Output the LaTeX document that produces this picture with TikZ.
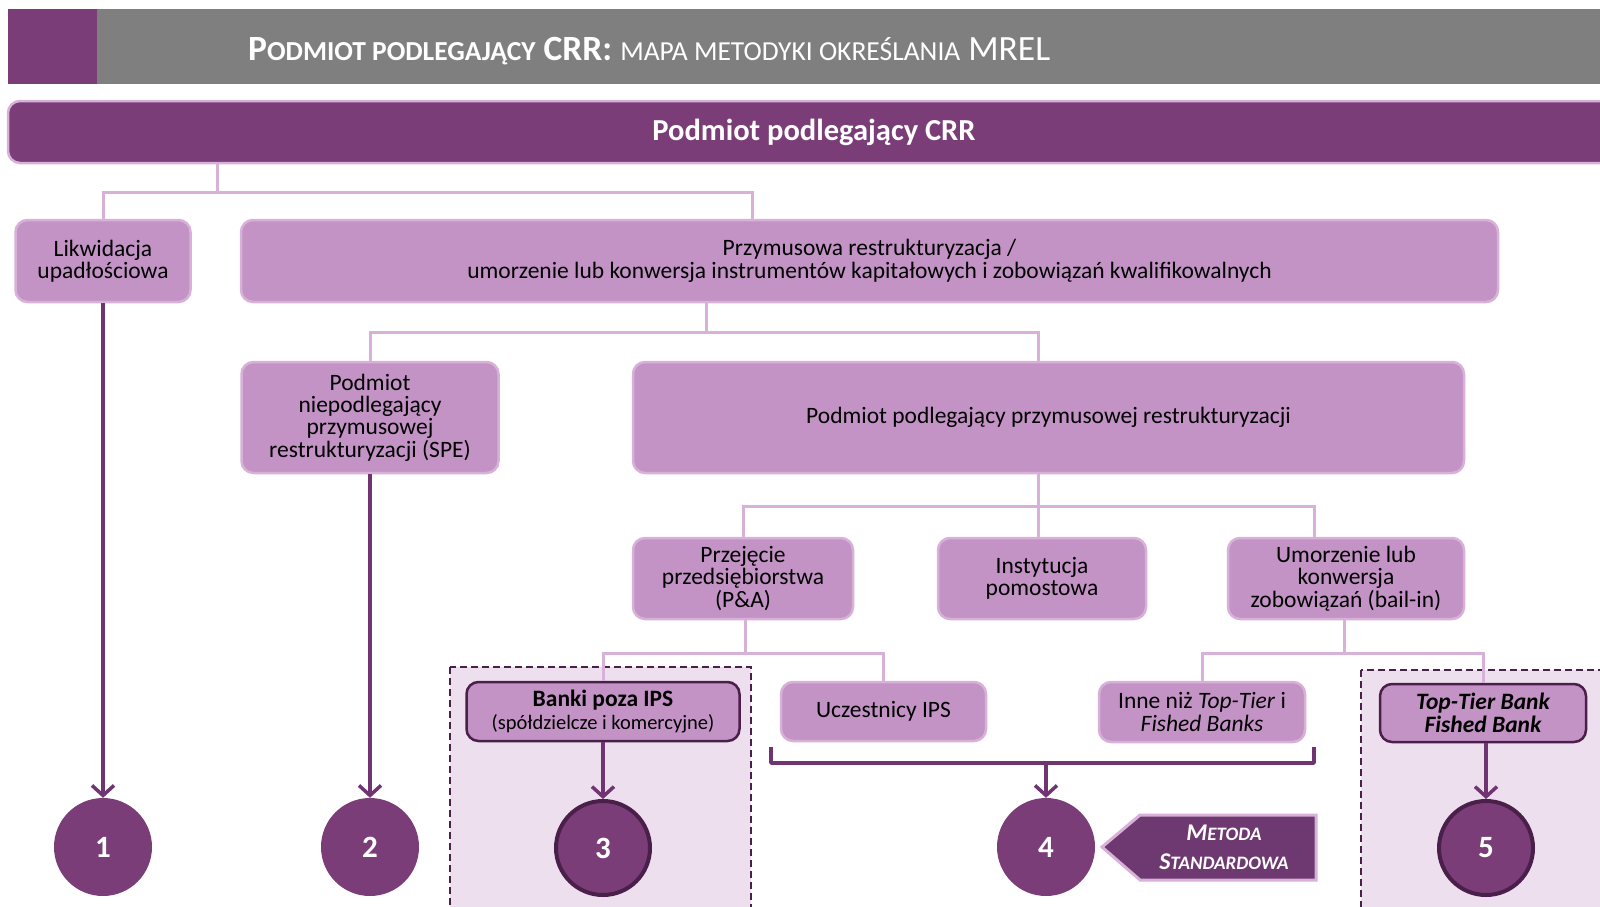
\documentclass[tikz,border=0pt]{standalone}
\usepackage{fontspec}
\setmainfont{Carlito}
\usetikzlibrary{arrows.meta}
\definecolor{dpurp}{HTML}{7A3D78}
\definecolor{mpurp}{HTML}{C493C6}
\definecolor{lpurp}{HTML}{D7B1D8}
\definecolor{bgpurp}{HTML}{EDDFEE}
\definecolor{dkline}{HTML}{4A1F4A}
\definecolor{arr}{HTML}{703472}
\definecolor{greybar}{HTML}{7F7F7F}
\definecolor{metfill}{HTML}{6E3870}
\newcommand\smc[1]{{\fontsize{27.5}{27.5}\selectfont #1}}
\newcommand\msc[1]{{\fontsize{19}{19}\selectfont #1}}
\tikzset{
  box/.style={rounded corners=12pt, fill=mpurp, draw=lpurp, line width=2.5pt, align=center,
    inner sep=0pt, font=\fontsize{23.5}{22.4}\selectfont},
  darkbox/.style={box, draw=dkline, line width=2.5pt},
  conn/.style={draw=lpurp, line width=3pt},
  arrline/.style={draw=arr, line width=3.5pt, -{Straight Barb[length=10pt,width=22pt]}},
  num/.style={circle, fill=dpurp, minimum size=98pt, inner sep=0pt, text=white,
    font=\fontsize{31}{31}\selectfont\bfseries},
  numdark/.style={num, draw=dkline, line width=4pt, minimum size=94pt},
  region/.style={draw=dkline, dash pattern=on 7pt off 4pt, line width=1.3pt, fill=bgpurp}
}
\begin{document}
\begin{tikzpicture}[x=1pt,y=-1pt]
\useasboundingbox (0,0) rectangle (1600,907);
% title bar
\fill[greybar] (8,9) rectangle (1600,84);
\fill[dpurp] (8,9) rectangle (97,84);
\node[anchor=west, text=white, inner sep=0pt] (title) at (248,51)
  {\fontsize{35.5}{35.5}\selectfont\bfseries P\smc{ODMIOT PODLEGAJĄCY} CRR:\mdseries\ \smc{MAPA METODYKI OKREŚLANIA} MREL};
% main bar
\node[box, fill=dpurp, text=white, minimum width=1612pt, minimum height=62pt,
  font=\fontsize{30.5}{30.5}\selectfont\bfseries] (main) at (814,132) {Podmiot podlegający CRR};
% dashed regions
\draw[region] (450,667) rectangle (751,930);
\draw[region] (1361,670) rectangle (1630,930);
% level 1
\node[box, minimum width=175pt, minimum height=82pt] (lik) at (103,261) {Likwidacja\\upadłościowa};
\node[box, minimum width=1257pt, minimum height=82pt] (prz) at (869.5,261)
  {Przymusowa restrukturyzacja /\\umorzenie lub konwersja instrumentów kapitałowych i zobowiązań kwalifikowalnych};
% level 2
\node[box, minimum width=257pt, minimum height=111pt] (spe) at (370,417.5)
  {Podmiot\\niepodlegający\\przymusowej\\restrukturyzacji (SPE)};
\node[box, minimum width=831pt, minimum height=111pt] (ppr) at (1048.5,417.5)
  {Podmiot podlegający przymusowej restrukturyzacji};
% level 3
\node[box, minimum width=220pt, minimum height=81pt] (pa) at (743,578.5)
  {Przejęcie\\przedsiębiorstwa\\(P\&A)};
\node[box, minimum width=208pt, minimum height=81pt] (inst) at (1042,578.5)
  {Instytucja\\pomostowa};
\node[box, minimum width=236pt, minimum height=81pt] (bail) at (1346,578.5)
  {Umorzenie lub\\konwersja\\zobowiązań (bail-in)};
% level 4
\node[darkbox, minimum width=273pt, minimum height=59pt] (banki) at (603,711.5)
  {\textbf{Banki poza IPS}\\{\fontsize{20.5}{22}\selectfont (spółdzielcze i komercyjne)}};
\node[box, minimum width=205pt, minimum height=59pt] (ucz) at (883.5,711.5) {Uczestnicy IPS};
\node[box, minimum width=206pt, minimum height=60pt] (inne) at (1202,712)
  {Inne niż \textit{Top-Tier} i\\\textit{Fished Banks}};
\node[darkbox, minimum width=206pt, minimum height=58pt, font=\fontsize{23.5}{22.4}\selectfont\bfseries\itshape] (top) at (1483,713)
  {Top-Tier Bank\\Fished Bank};
% circles
\node[num] (c1) at (103,847) {1};
\node[num] (c2) at (370,847) {2};
\node[numdark] (c3) at (603,848) {3};
\node[num] (c4) at (1046,847) {4};
\node[numdark] (c5) at (1486,848) {5};
% connectors
\coordinate (j1) at (217,192);
\coordinate (j1r) at (752,192);
\draw[conn] (main.south -| j1) -- (j1);
\draw[conn] (lik.north) |- (j1) -- (j1r) -- (prz.north -| j1r);
\coordinate (j2) at (706,332);
\coordinate (j2r) at (1038,332);
\draw[conn] (prz.south -| j2) -- (j2);
\draw[conn] (spe.north) |- (j2) -- (j2r) -- (ppr.north -| j2r);
\coordinate (j3) at (1038,506);
\coordinate (j3r) at (1314,506);
\draw[conn] (ppr.south -| j3) -- (inst.north -| j3);
\draw[conn] (pa.north) |- (j3) -- (j3r) -- (bail.north -| j3r);
\coordinate (j4) at (745,653);
\draw[conn] (pa.south -| j4) -- (j4);
\draw[conn] (banki.north) |- (j4) -| (ucz.north);
\coordinate (j5) at (1344,653);
\draw[conn] (bail.south -| j5) -- (j5);
\draw[conn] (inne.north) |- (j5) -| (top.north);
% arrows
\draw[arrline] (c1.north |- lik.south) -- (c1.north);
\draw[arrline] (c2.north |- spe.south) -- (c2.north);
\draw[arrline] (c3.north |- banki.south) -- (c3.north);
\draw[arrline] (c5.north |- top.south) -- (c5.north);
% bracket
\coordinate (bl) at (771,747);
\coordinate (br) at (1314,747);
\coordinate (bm) at (1046,763);
\draw[draw=arr, line width=3.5pt, line join=round] (bl) -- (bl |- bm) -- (br |- bm) -- (br);
\draw[arrline] (bm) -- (c4.north);
% metoda arrow
\draw[fill=metfill, draw=lpurp, line width=3pt] (1102,847) -- (1140,815) -- (1316,815) -- (1316,880) -- (1140,880) -- cycle;
\node[text=white, align=center, inner sep=0pt, font=\fontsize{24}{29}\selectfont\bfseries\itshape] (met) at (1224,847)
  {M\msc{ETODA}\\S\msc{TANDARDOWA}};
\end{tikzpicture}
\end{document}
